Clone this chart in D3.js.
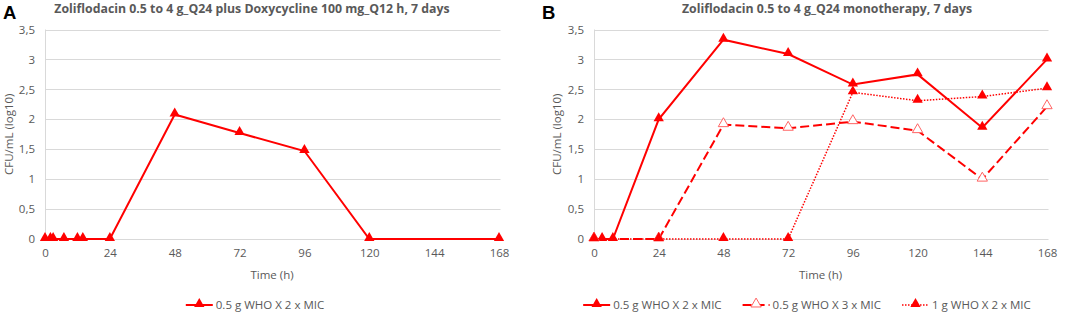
<!DOCTYPE html>
<html>
<head>
<meta charset="utf-8">
<script src="https://cdn.jsdelivr.net/npm/d3@7"></script>
<style>
  body { margin: 0; background: #fff; }
  text { font-family: "Open Sans", sans-serif; }
</style>
</head>
<body>
<div id="chart"></div>
<script>
const lineColor = "#FF0000"
const hollowColor = "#FF6464"
const textColor = "#595959"
const gridColor = "#D9D9D9"

// Panel A data
const timesA = [0, 2, 3, 7, 12, 14, 24, 48, 72, 96, 120, 168]
const cfuA = [0, 0, 0, 0, 0, 0, 0, 2.08, 1.77, 1.47, 0, 0]

// Panel B data
const timesB1 = [0, 3, 7, 24, 48, 72, 96, 120, 144, 168]
const cfuB1 = [0, 0, 0, 2.0, 3.33, 3.09, 2.58, 2.75, 1.86, 3.0]
const timesB2 = [0, 24, 48, 72, 96, 120, 144, 168]
const cfuB2 = [0, 0, 1.91, 1.85, 1.96, 1.81, 1.0, 2.21]
const timesB3 = [0, 24, 48, 72, 96, 120, 144, 168]
const cfuB3 = [0, 0, 0, 0, 2.45, 2.31, 2.38, 2.52]

const xTicks = [0, 24, 48, 72, 96, 120, 144, 168]
const yTicks = [0, 0.5, 1, 1.5, 2, 2.5, 3, 3.5]

const seriesNamesA = ["0.5 g WHO X 2 x MIC"]
const seriesNamesB = ["0.5 g WHO X 2 x MIC", "0.5 g WHO X 3 x MIC", "1 g WHO X 2 x MIC"]

const zip = (xs, ys) => xs.map((x, i) => ({ time: x, cfu: ys[i] }))

const styles = {
  solid: { dash: null, width: 2, hollow: false },
  dashed: { dash: "9,4", width: 2, hollow: true },
  dotted: { dash: "1.5,1.5", width: 1.5, hollow: false },
}

const wrapper = d3.select("#chart")
  .append("svg")
    .attr("width", 1065)
    .attr("height", 314)

function drawPanel(p) {
  const g = wrapper.append("g")

  const xScale = d3.scaleLinear()
    .domain([0, 168])
    .range([p.left, p.right])
  const yScale = d3.scaleLinear()
    .domain([0, 3.5])
    .range([239, 29.5])

  // gridlines
  g.append("g")
    .selectAll("line")
    .data(yTicks)
    .join("line")
      .attr("x1", p.left)
      .attr("x2", p.right + 1.5)
      .attr("y1", d => Math.round(yScale(d)) + 0.5)
      .attr("y2", d => Math.round(yScale(d)) + 0.5)
      .attr("stroke", gridColor)
      .attr("stroke-width", 1)

  g.append("line")
    .attr("x1", p.left + 0.5)
    .attr("x2", p.left + 0.5)
    .attr("y1", yScale(3.5))
    .attr("y2", yScale(0))
    .attr("stroke", gridColor)

  // y axis labels
  const yAxis = g.append("g")
    .attr("transform", `translate(${p.left - 10},0)`)
    .call(d3.axisLeft(yScale).tickValues(yTicks).tickSize(0).tickPadding(0)
      .tickFormat(d => String(d).replace(".", ",")))
  yAxis.select(".domain").remove()
  yAxis.selectAll("text")
    .attr("fill", textColor)
    .style("font-size", "11.5px")
    .style("font-family", "Open Sans, sans-serif")

  // x axis labels
  const xAxis = g.append("g")
    .attr("transform", `translate(0,${yScale(0) + 10})`)
    .call(d3.axisBottom(xScale).tickValues(xTicks).tickSize(0).tickPadding(0))
  xAxis.select(".domain").remove()
  xAxis.selectAll("text")
    .attr("fill", textColor)
    .style("font-size", "11.5px")
    .style("font-family", "Open Sans, sans-serif")

  g.append("text")
    .attr("x", (p.left + p.right) / 2)
    .attr("y", 279)
    .attr("text-anchor", "middle")
    .attr("fill", textColor)
    .style("font-size", "11.5px")
    .text("Time (h)")

  g.append("text")
    .attr("transform", `translate(${p.yLabelX},${(yScale(0) + yScale(3.5)) / 2}) rotate(-90)`)
    .attr("text-anchor", "middle")
    .attr("fill", textColor)
    .style("font-size", "11.5px")
    .text("CFU/mL (log10)")

  // title and panel letter
  g.append("text")
    .attr("x", p.titleX)
    .attr("y", 13)
    .attr("text-anchor", "middle")
    .attr("fill", textColor)
    .style("font-size", "12.3px")
    .style("font-weight", "bold")
    .text(p.title)

  g.append("text")
    .attr("x", p.letterX)
    .attr("y", 19)
    .attr("fill", "#000")
    .style("font-family", "Liberation Sans, Arial, sans-serif")
    .style("font-size", "18.5px")
    .style("font-weight", "bold")
    .text(p.letter)

  // lines
  const lineGenerator = d3.line()
    .x(d => xScale(d.time))
    .y(d => yScale(d.cfu))

  const triangle = d3.symbol().type(d3.symbolTriangle).size(46)

  p.series.forEach(s => {
    const st = styles[s.style]
    g.append("path")
      .attr("d", lineGenerator(s.data))
      .attr("fill", "none")
      .attr("stroke", lineColor)
      .attr("stroke-width", st.width)
      .attr("stroke-dasharray", st.dash)
  })
  p.series.forEach(s => {
    const st = styles[s.style]
    g.append("g")
      .selectAll("path")
      .data(s.data)
      .join("path")
        .attr("transform", d => `translate(${xScale(d.time)},${yScale(d.cfu) - 1})`)
        .attr("d", triangle)
        .attr("fill", st.hollow ? "#fff" : lineColor)
        .attr("stroke", st.hollow ? hollowColor : "none")
        .attr("stroke-width", 1)
  })

  // legend
  const legend = g.append("g").attr("transform", "translate(0,305)")
  let x = 0
  p.series.forEach((s, i) => {
    const st = styles[s.style]
    const item = legend.append("g").attr("transform", `translate(${x},0)`)
    item.append("line")
      .attr("x1", 0).attr("x2", 27)
      .attr("y1", 0).attr("y2", 0)
      .attr("stroke", lineColor)
      .attr("stroke-width", st.width)
      .attr("stroke-dasharray", st.dash)
    item.append("path")
      .attr("transform", "translate(13.5,-1)")
      .attr("d", triangle)
      .attr("fill", st.hollow ? "#fff" : lineColor)
      .attr("stroke", st.hollow ? hollowColor : "none")
    const t = item.append("text")
      .attr("x", 30)
      .attr("y", 4)
      .attr("fill", textColor)
      .style("font-size", "11.5px")
      .text(s.name)
    x += 30 + t.node().getComputedTextLength() + 21
  })
  const width = x - 21
  legend.attr("transform", `translate(${p.legendCenter - width / 2},305)`)
}

drawPanel({
  left: 45, right: 499, yLabelX: 13, titleX: 252, letterX: 3, letter: "A",
  title: "Zoliflodacin 0.5 to 4 g_Q24 plus Doxycycline 100 mg_Q12 h, 7 days",
  legendCenter: 255,
  series: [
    { name: seriesNamesA[0], style: "solid", data: zip(timesA, cfuA) },
  ],
})

drawPanel({
  left: 594, right: 1047, yLabelX: 561, titleX: 827, letterX: 542, letter: "B",
  title: "Zoliflodacin 0.5 to 4 g_Q24 monotherapy, 7 days",
  legendCenter: 807,
  series: [
    { name: seriesNamesB[0], style: "solid", data: zip(timesB1, cfuB1) },
    { name: seriesNamesB[1], style: "dashed", data: zip(timesB2, cfuB2) },
    { name: seriesNamesB[2], style: "dotted", data: zip(timesB3, cfuB3) },
  ],
})
</script>
</body>
</html>
